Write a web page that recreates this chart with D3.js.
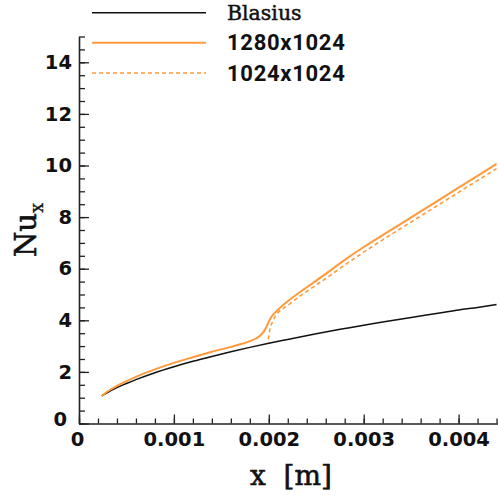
<!DOCTYPE html>
<html><head><meta charset="utf-8">
<script src="https://cdn.jsdelivr.net/npm/d3@7"></script>
<style>
html,body{margin:0;padding:0;background:#fff;}
svg{display:block;}
</style></head>
<body>
<svg id="chart" width="498" height="495"></svg>
<script>
// ---- data ----
const blasiusX = [0.00024,0.0003,0.0004,0.0005,0.0006,0.0008,0.001,0.0012,0.0014,0.0016,0.0018,0.002,0.0022,0.0025,0.0028,0.003,0.0032,0.0035,0.0038,0.004,0.0042,0.0044];
const blasiusY = [1.07,1.20,1.39,1.55,1.70,1.97,2.20,2.41,2.60,2.78,2.95,3.11,3.26,3.48,3.68,3.81,3.93,4.11,4.28,4.40,4.50,4.61];

const fineX = [0.00024,0.0003,0.0004,0.0005,0.0006,0.0008,0.001,0.0012,0.0014,0.0016,0.0017,0.0018,0.0019,0.00195,0.00198,0.002,0.00203,0.0021,0.0022,0.0024,0.0026,0.0028,0.003,0.0032,0.0034,0.0036,0.0038,0.004,0.0042,0.0044];
const fineY = [1.08,1.24,1.46,1.64,1.81,2.10,2.35,2.57,2.78,2.97,3.07,3.19,3.38,3.58,3.78,3.95,4.15,4.42,4.74,5.28,5.80,6.34,6.84,7.30,7.76,8.22,8.68,9.14,9.60,10.06];

const coarseX = [0.001995,0.00201,0.00204,0.00207,0.0022,0.0024,0.0026,0.0028,0.003,0.0032,0.0034,0.0036,0.0038,0.004,0.0042,0.0044];
const coarseY = [3.26,3.62,3.95,4.16,4.58,5.12,5.62,6.14,6.64,7.12,7.58,8.04,8.50,8.96,9.42,9.88];

const seriesNames = ["Blasius","1280x1024","1024x1024"];
const xMajorTicks = [0,0.001,0.002,0.003,0.004];
const xTickLabels = ["0","0.001","0.002","0.003","0.004"];
const yMajorTicks = [0,2,4,6,8,10,12,14];

// ---- layout ----
const svg = d3.select("#chart");
const x = d3.scaleLinear().domain([0,0.00441]).range([79,497.5]);
const y = d3.scaleLinear().domain([0,15]).range([423.5,36.5]);
const orange = "#ff9a3c";
const tickFont = "'DejaVu Sans', sans-serif";

// minor ticks
const xMinor = d3.range(0,0.00441,0.0002);
const yMinor = d3.range(0,15.01,0.5);

svg.append("g").attr("transform","translate(0,423.5)")
  .call(d3.axisBottom(x).tickValues(xMinor).tickSize(-5).tickFormat(""))
  .call(g=>g.select(".domain").remove())
  .call(g=>g.selectAll("line").attr("stroke","#222").attr("stroke-width",1.3));
svg.append("g").attr("transform","translate(79,0)")
  .call(d3.axisLeft(y).tickValues(yMinor).tickSize(-6).tickFormat(""))
  .call(g=>g.select(".domain").remove())
  .call(g=>g.selectAll("line").attr("stroke","#222").attr("stroke-width",1.3));

// major x axis
const xa = svg.append("g").attr("transform","translate(0,423.5)")
  .call(d3.axisBottom(x).tickValues(xMajorTicks).tickSize(-9).tickPadding(9)
    .tickFormat((d,i)=>xTickLabels[i]).tickSizeOuter(0));
xa.select(".domain").attr("stroke","#222").attr("stroke-width",1.6);
xa.selectAll("line").attr("stroke","#222").attr("stroke-width",1.3);
xa.selectAll("text").attr("font-family",tickFont).attr("font-weight","bold")
  .attr("font-size",19.5).attr("fill","#111");
xa.selectAll(".tick").filter(d=>d===0).select("text").attr("dx",-2);

// major y axis
const ya = svg.append("g").attr("transform","translate(79,0)")
  .call(d3.axisLeft(y).tickValues(yMajorTicks).tickSize(-10).tickPadding(7)
    .tickFormat(d3.format("d")).tickSizeOuter(0));
ya.select(".domain").attr("stroke","#222").attr("stroke-width",1.6);
ya.selectAll("line").attr("stroke","#222").attr("stroke-width",1.3);
ya.selectAll("text").attr("font-family",tickFont).attr("font-weight","bold")
  .attr("font-size",19.5).attr("fill","#111");
ya.selectAll(".tick").filter(d=>d===0).select("text").attr("dx",-5).attr("dy","0.1em");

// curves
const line = d3.line().x(d=>x(d[0])).y(d=>y(d[1])).curve(d3.curveMonotoneX);
const zip = (a,b)=>a.map((v,i)=>[v,b[i]]);

svg.append("path").datum(zip(blasiusX,blasiusY)).attr("d",line)
  .attr("fill","none").attr("stroke","#111").attr("stroke-width",1.5);
svg.append("path").datum(zip(coarseX,coarseY)).attr("d",line)
  .attr("fill","none").attr("stroke",orange).attr("stroke-width",1.6)
  .attr("stroke-dasharray","4,3");
svg.append("path").datum(zip(fineX,fineY)).attr("d",line)
  .attr("fill","none").attr("stroke",orange).attr("stroke-width",2);

// legend
const legY = [12.7,42.7,73];
const legStyle = [
  {stroke:"#111",dash:null,w:1.5,font:"'DejaVu Serif', serif",size:20.5,weight:"normal",sw:0.5,ls:0},
  {stroke:orange,dash:null,w:2,font:"Roboto, sans-serif",size:22,weight:"bold",sw:0,ls:0.7},
  {stroke:orange,dash:"4,3",w:1.6,font:"Roboto, sans-serif",size:22,weight:"bold",sw:0,ls:0.7}
];
seriesNames.forEach((name,i)=>{
  const s = legStyle[i];
  svg.append("line").attr("x1",92).attr("x2",206).attr("y1",legY[i]).attr("y2",legY[i])
    .attr("stroke",s.stroke).attr("stroke-width",s.w).attr("stroke-dasharray",s.dash);
  svg.append("text").attr("x",227).attr("y",legY[i]+7.5)
    .attr("font-family",s.font).attr("font-size",s.size).attr("font-weight",s.weight)
    .attr("letter-spacing",s.ls)
    .attr("stroke","#111").attr("stroke-width",s.sw)
    .attr("fill","#111").text(name);
});

// axis titles
svg.append("text").attr("x",291).attr("y",485).attr("text-anchor","middle")
  .attr("font-family","'DejaVu Serif', serif").attr("font-size",28).attr("fill","#111")
  .attr("stroke","#111").attr("stroke-width",0.6)
  .style("white-space","pre").text("x  [m]");

const yt = svg.append("text").attr("transform","translate(36,230) rotate(-90)")
  .attr("text-anchor","middle")
  .attr("font-family","'DejaVu Serif', serif").attr("font-size",29).attr("fill","#111")
  .attr("stroke","#111").attr("stroke-width",0.6);
yt.append("tspan").text("Nu");
yt.append("tspan").attr("font-size",18).attr("dy",7).attr("stroke-width",0.3).text("x");
</script>
</body></html>
